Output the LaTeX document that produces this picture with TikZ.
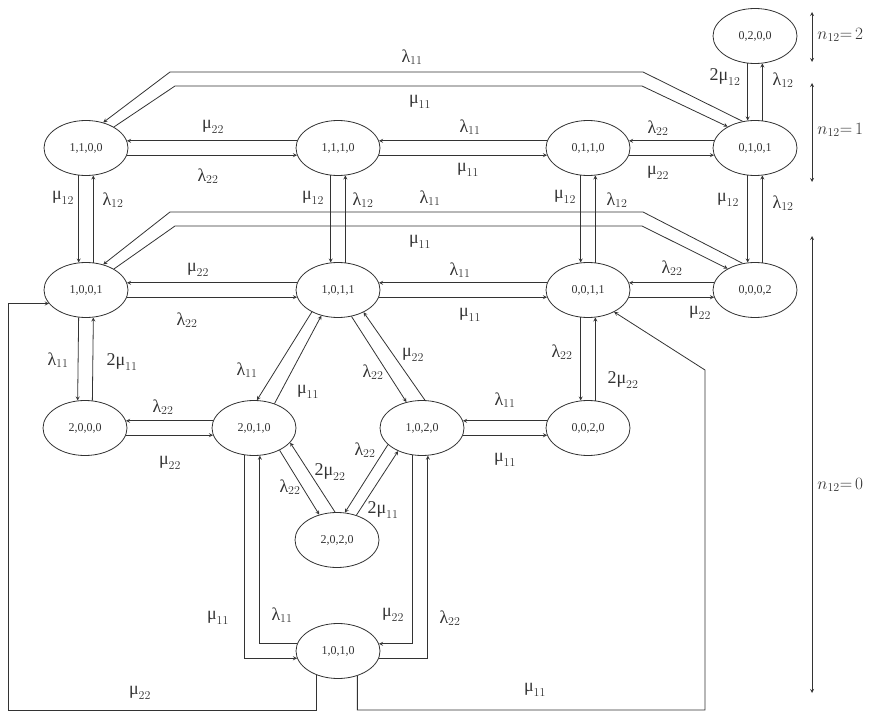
\documentclass[tikz,border=0pt]{standalone}
\usepackage{fontspec}
\setmainfont{Liberation Serif}
\usetikzlibrary{shapes.geometric}

\newcommand{\lam}[1]{$\mbox{λ}_{#1}$}
\newcommand{\mmu}[1]{$\mbox{μ}_{#1}$}

\tikzset{
  stnode/.style={ellipse, draw, minimum width=84pt, minimum height=55pt,
    inner sep=0pt, font=\fontsize{12}{14}\selectfont},
  rate/.style={inner sep=0pt, font=\fontsize{18}{20}\selectfont},
}

\begin{document}
\begin{tikzpicture}[x=1pt, y=-1pt, >=stealth, line width=0.8pt, color=black!80]
    \useasboundingbox (0,0) rectangle (880,714);

    % States
    \node[stnode] (n0200) at (755,36)  {0,2,0,0};
    \node[stnode] (n1100) at (86,148)  {1,1,0,0};
    \node[stnode] (n1110) at (338,148) {1,1,1,0};
    \node[stnode] (n0110) at (588,148) {0,1,1,0};
    \node[stnode] (n0101) at (755,148) {0,1,0,1};
    \node[stnode] (n1001) at (86,290)  {1,0,0,1};
    \node[stnode] (n1011) at (338,290) {1,0,1,1};
    \node[stnode] (n0011) at (588,290) {0,0,1,1};
    \node[stnode] (n0002) at (755,290) {0,0,0,2};
    \node[stnode] (n2000) at (85,428)  {2,0,0,0};
    \node[stnode] (n2010) at (254,428) {2,0,1,0};
    \node[stnode] (n1020) at (422,428) {1,0,2,0};
    \node[stnode] (n0020) at (588,428) {0,0,2,0};
    \node[stnode] (n2020) at (337,540) {2,0,2,0};
    \node[stnode] (n1010) at (338,651) {1,0,1,0};

    % Horizontal pairs
    \draw[->] (n1110.170) -- (n1100.10);
    \draw[->] (n1100.-10) -- (n1110.190);
    \draw[->] (n0110.170) -- (n1110.10);
    \draw[->] (n1110.-10) -- (n0110.190);
    \draw[->] (n0101.170) -- (n0110.10);
    \draw[->] (n0110.-10) -- (n0101.190);
    \draw[->] (n1011.170) -- (n1001.10);
    \draw[->] (n1001.-10) -- (n1011.190);
    \draw[->] (n0011.170) -- (n1011.10);
    \draw[->] (n1011.-10) -- (n0011.190);
    \draw[->] (n0002.170) -- (n0011.10);
    \draw[->] (n0011.-10) -- (n0002.190);
    \draw[->] (n2010.170) -- (n2000.10);
    \draw[->] (n2000.-10) -- (n2010.190);
    \draw[->] (n0020.170) -- (n1020.10);
    \draw[->] (n1020.-10) -- (n0020.190);

    % Vertical pairs
    \draw[->] (n0200.255) -- (n0101.105);
    \draw[->] (n0101.75) -- (n0200.285);
    \draw[->] (n1100.255) -- (n1001.105);
    \draw[->] (n1001.75) -- (n1100.285);
    \draw[->] (n1110.255) -- (n1011.105);
    \draw[->] (n1011.75) -- (n1110.285);
    \draw[->] (n0110.255) -- (n0011.105);
    \draw[->] (n0011.75) -- (n0110.285);
    \draw[->] (n0101.255) -- (n0002.105);
    \draw[->] (n0002.75) -- (n0101.285);
    \draw[->] (n1001.255) -- (n2000.105);
    \draw[->] (n2000.75) -- (n1001.285);
    \draw[->] (n0011.255) -- (n0020.105);
    \draw[->] (n0020.75) -- (n0011.285);

    % Diagonal pairs
    \draw[->] (n1011.220) -- (n2010.84);
    \draw[->] (n2010.50) -- (n1011.237);
    \draw[->] (n1011.297) -- (n1020.121);
    \draw[->] (n1020.84) -- (n1011.319);
    \draw[->] (n2010.319) -- (n2020.125);
    \draw[->] (n2020.94) -- (n2010.338);
    \draw[->] (n1020.206) -- (n2020.74);
    \draw[->] (n2020.52) -- (n1020.224);

    % Long links over the top rows
    \draw[->] (n0101.115) -- (643,72) -- (170,72) -- (n1100.56);
    \draw[->] (n1100.37) -- (175,86) -- (642,86) -- (n0101.142);
    \draw[->] (n0002.115) -- (643,212) -- (170,212) -- (n1001.56);
    \draw[->] (n1001.37) -- (175,226) -- (642,226) -- (n0002.142);

    % Links down to 1,0,1,0
    \draw[->] (n2010.250) |- (n1010.190);
    \draw[->] (n1010.170) -| (n2010.282);
    \draw[->] (n1020.250) |- (n1010.10);
    \draw[->] (n1010.-10) -| (n1020.282);

    % Loops under the picture
    \draw[->] (n1010.228) |- (8,710) |- (n1001.200);
    \draw[->] (n1010.308) |- (705,710) -- (705,370) -- (n0011.320);

    % Rates
    \node[rate] (r1)  at (412,57)  {\lam{11}};
    \node[rate] (r2)  at (420,102) {\mmu{11}};
    \node[rate] (r3)  at (213,127) {\mmu{22}};
    \node[rate] (r4)  at (208,176) {\lam{22}};
    \node[rate] (r5)  at (470,127) {\lam{11}};
    \node[rate] (r6)  at (468,170) {\mmu{11}};
    \node[rate] (r7)  at (658,128) {\lam{22}};
    \node[rate] (r8)  at (658,173) {\mmu{22}};
    \node[rate] (r9)  at (725,77)  {2\mmu{12}};
    \node[rate] (r10) at (783,80)  {\lam{12}};
    \node[rate] (r11) at (63,198)  {\mmu{12}};
    \node[rate] (r12) at (113,200) {\lam{12}};
    \node[rate] (r13) at (313,198) {\mmu{12}};
    \node[rate] (r14) at (363,200) {\lam{12}};
    \node[rate] (r15) at (565,197) {\mmu{12}};
    \node[rate] (r16) at (617,200) {\lam{12}};
    \node[rate] (r17) at (728,200) {\mmu{12}};
    \node[rate] (r18) at (783,203) {\lam{12}};
    \node[rate] (r19) at (430,198) {\lam{11}};
    \node[rate] (r20) at (420,242) {\mmu{11}};
    \node[rate] (r21) at (198,270) {\mmu{22}};
    \node[rate] (r22) at (187,320) {\lam{22}};
    \node[rate] (r23) at (460,270) {\lam{11}};
    \node[rate] (r24) at (470,315) {\mmu{11}};
    \node[rate] (r25) at (672,268) {\lam{22}};
    \node[rate] (r26) at (700,313) {\mmu{22}};
    \node[rate] (r27) at (58,360)  {\lam{11}};
    \node[rate] (r28) at (122,362) {2\mmu{11}};
    \node[rate] (r29) at (562,352) {\lam{22}};
    \node[rate] (r30) at (623,380) {2\mmu{22}};
    \node[rate] (r31) at (163,407) {\lam{22}};
    \node[rate] (r32) at (170,463) {\mmu{22}};
    \node[rate] (r33) at (505,400) {\lam{11}};
    \node[rate] (r34) at (505,460) {\mmu{11}};
    \node[rate] (r35) at (247,370) {\lam{11}};
    \node[rate] (r36) at (308,392) {\mmu{11}};
    \node[rate] (r37) at (373,372) {\lam{22}};
    \node[rate] (r38) at (413,355) {\mmu{22}};
    \node[rate] (r39) at (290,487) {\lam{22}};
    \node[rate] (r40) at (330,472) {2\mmu{22}};
    \node[rate] (r41) at (365,450) {\lam{22}};
    \node[rate] (r42) at (383,510) {2\mmu{11}};
    \node[rate] (r43) at (218,618) {\mmu{11}};
    \node[rate] (r44) at (282,615) {\lam{11}};
    \node[rate] (r45) at (393,615) {\mmu{22}};
    \node[rate] (r46) at (450,618) {\lam{22}};
    \node[rate] (r47) at (140,693) {\mmu{22}};
    \node[rate] (r48) at (535,690) {\mmu{11}};

    % Levels of n12
    \coordinate (lv2a) at (812,12);
    \coordinate (lv2b) at (812,62);
    \coordinate (lv1a) at (812,83);
    \coordinate (lv1b) at (812,182);
    \coordinate (lv0a) at (812,236);
    \coordinate (lv0b) at (812,693);
    \draw[<->] (lv2a) -- (lv2b);
    \draw[<->] (lv1a) -- (lv1b);
    \draw[<->] (lv0a) -- (lv0b);
    \node[rate, anchor=west] (lvl2) at (817,35)  {$n_{12}{=}\,2$};
    \node[rate, anchor=west] (lvl1) at (817,130) {$n_{12}{=}\,1$};
    \node[rate, anchor=west] (lvl0) at (817,485) {$n_{12}{=}\,0$};
\end{tikzpicture}
\end{document}
